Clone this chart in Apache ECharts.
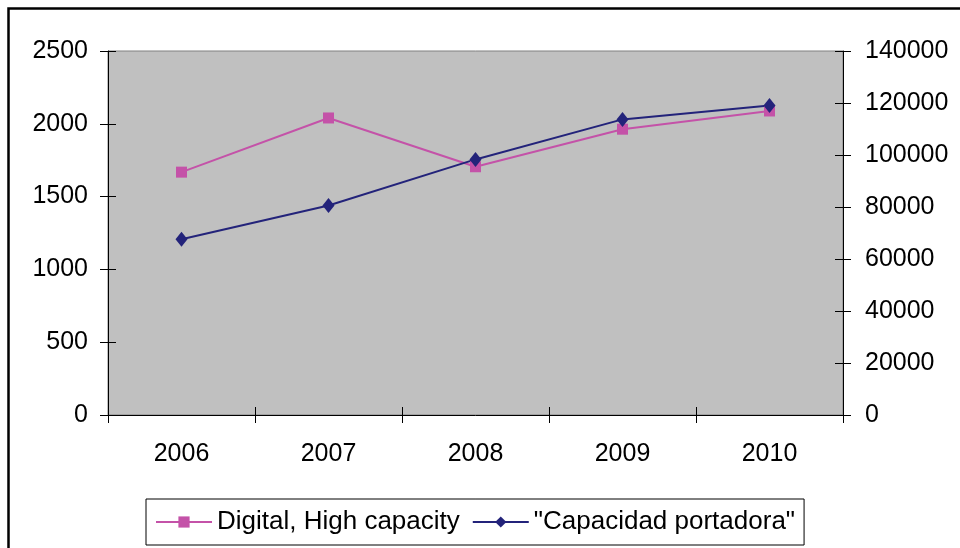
<!DOCTYPE html>
<html>
<head>
<meta charset="utf-8">
<script src="https://cdn.jsdelivr.net/npm/echarts@6/dist/echarts.min.js"></script>
<style>
html,body{margin:0;padding:0;background:#fff;}
#c{width:960px;height:548px;}
</style>
</head>
<body>
<div id="c"></div>
<script>
var categories = ['2006', '2007', '2008', '2009', '2010'];
var digitalHigh = [1668, 2040, 1705, 1963, 2088];
var capacidad = [67600, 80600, 98300, 113700, 119000];
var seriesNames = ['Digital, High capacity', '"Capacidad portadora"'];
var leftTicks = {min: 0, max: 2500, interval: 500};
var rightTicks = {min: 0, max: 140000, interval: 20000};

var FONT = 'Liberation Sans, Arial, sans-serif';
var FS = 25;
var chart = echarts.init(document.getElementById('c'));

function yAx(pos, t, labels, inside) {
  return {
    type: 'value', position: pos, min: t.min, max: t.max, interval: t.interval,
    axisLine: {show: labels, lineStyle: {color: '#000', width: 1}},
    axisTick: {show: true, inside: inside, length: 8, lineStyle: {color: '#000'}},
    axisLabel: {show: labels, color: '#000', fontFamily: FONT, fontSize: FS,
      margin: pos === 'left' ? 20 : 22,
      formatter: function (v) { return String(v); }},
    splitLine: {show: false}
  };
}

function xAx(labels, inside) {
  return {
    type: 'category', data: categories, boundaryGap: true, position: 'bottom',
    axisLine: {show: labels, lineStyle: {color: '#000', width: 1}},
    axisTick: {show: true, inside: inside, alignWithLabel: false, length: 8, lineStyle: {color: '#000'}},
    axisLabel: {show: labels, color: '#000', fontFamily: FONT, fontSize: FS, margin: 27},
    splitLine: {show: false}
  };
}

chart.setOption({
  animation: false,
  backgroundColor: '#fff',
  graphic: [{
    type: 'rect', silent: true,
    shape: {x: 8.5, y: 8.5, width: 1200, height: 1200},
    style: {fill: 'none', stroke: '#000', lineWidth: 2.5}
  }],
  grid: {
    left: 108, right: 117, top: 51, bottom: 133,
    show: true, backgroundColor: '#C0C0C0', borderColor: '#808080', borderWidth: 1
  },
  legend: {
    left: 146, top: 499,
    data: seriesNames,
    orient: 'horizontal',
    itemWidth: 56, itemHeight: 14, itemGap: 12,
    borderColor: '#000', borderWidth: 1, backgroundColor: '#fff',
    padding: [10, 9, 10, 9],
    textStyle: {color: '#000', fontFamily: FONT, fontSize: 26, padding: [0, 0, 0, 0]}
  },
  xAxis: [xAx(true, false), xAx(false, true)],
  yAxis: [
    yAx('left', leftTicks, true, false),
    yAx('left', leftTicks, false, true),
    yAx('right', rightTicks, true, false),
    yAx('right', rightTicks, false, true)
  ],
  series: [
    {
      name: seriesNames[0], type: 'line', xAxisIndex: 0, yAxisIndex: 0, data: digitalHigh,
      symbol: 'rect', symbolSize: 11,
      lineStyle: {color: '#C452A8', width: 2},
      itemStyle: {color: '#C452A8'}
    },
    {
      name: seriesNames[1], type: 'line', xAxisIndex: 0, yAxisIndex: 2, data: capacidad,
      symbol: 'diamond', symbolSize: [12, 15],
      lineStyle: {color: '#23237A', width: 2},
      itemStyle: {color: '#23237A'}
    }
  ]
});
</script>
</body>
</html>
